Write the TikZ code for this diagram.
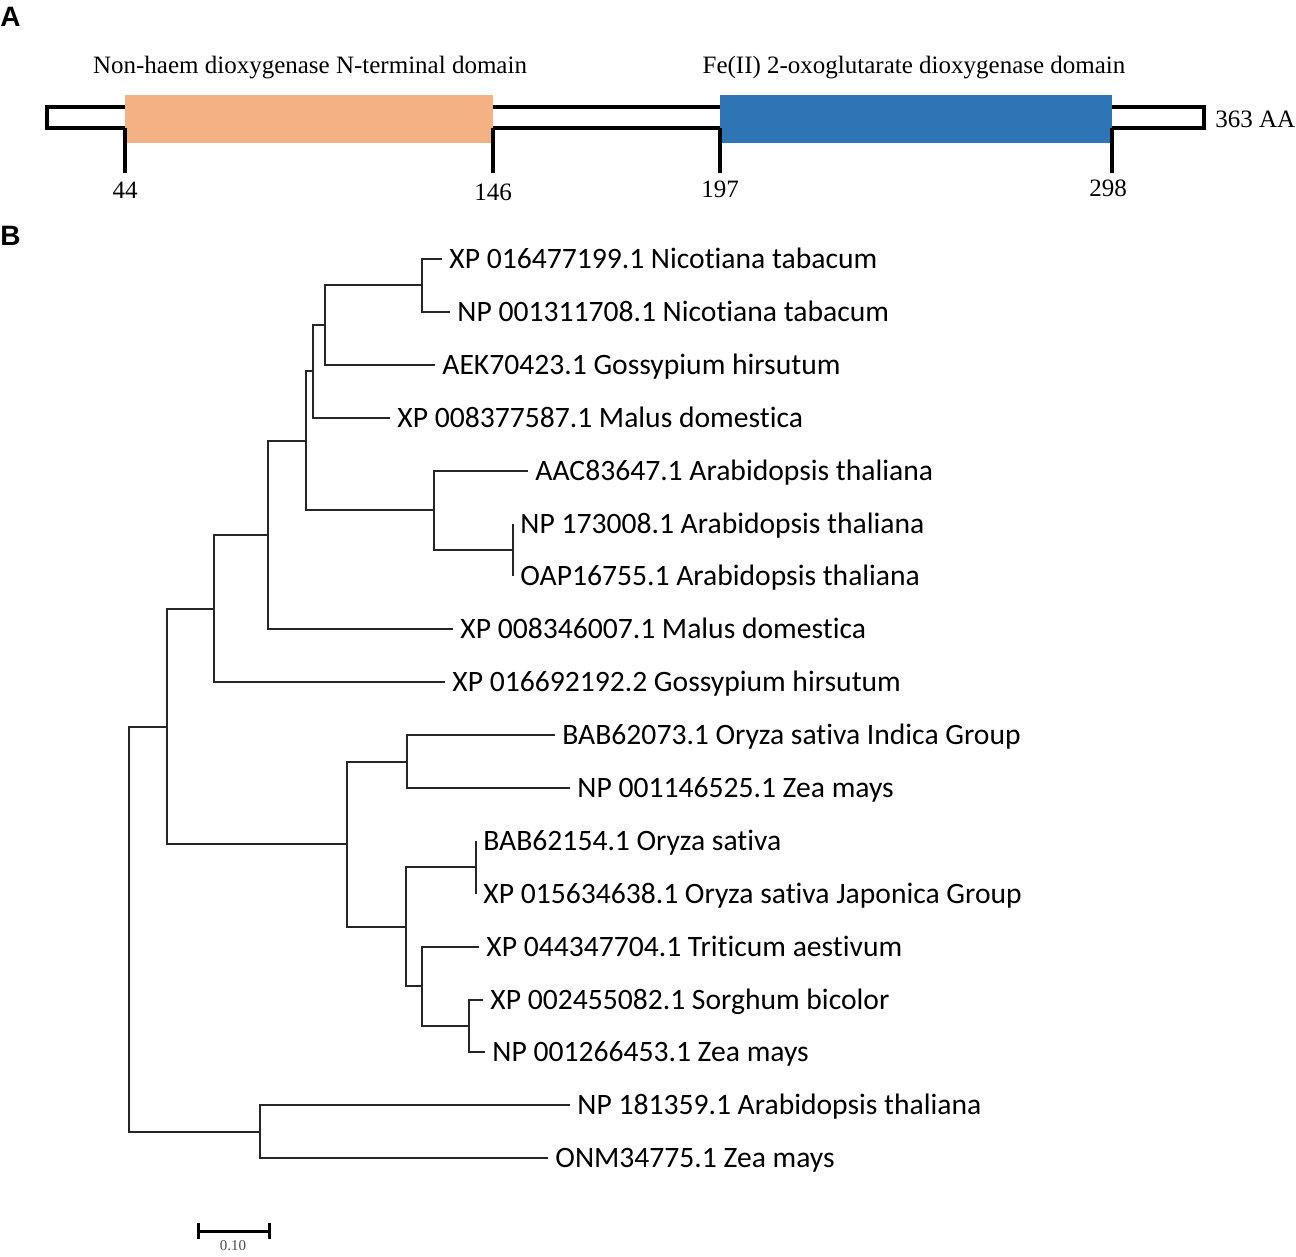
\documentclass[tikz,border=0pt]{standalone}
\usepackage{fontspec}
\setmainfont{Liberation Serif}
\newfontfamily\treefont[Ligatures={NoCommon,NoContextual,NoRare}]{Carlito}
\newfontfamily\panelfont{Liberation Sans}
\definecolor{ntermcol}{HTML}{F4B183}
\definecolor{fedomcol}{HTML}{2E75B6}
\begin{document}
\begin{tikzpicture}[x=0.5pt, y=-0.5pt,
	barline/.style={line width=2.25pt},
	branch/.style={draw=black!85, line width=1pt},
	leaf/.style={anchor=west, inner xsep=3.5pt, inner ysep=0pt, text height=9.5pt, text depth=0pt, font=\treefont\fontsize{14.8}{16}\selectfont},
	serif/.style={inner sep=0pt, font=\fontsize{12.5}{14}\selectfont},
	panel/.style={anchor=west, inner sep=0pt, font=\panelfont\bfseries\fontsize{14}{16}\selectfont}]
			\useasboundingbox (0,0) rectangle (1296,1257);

			% A: protein domains
			\node[panel] (pa) at (0,17) {A};
			\draw[barline] (47,107) rectangle (1204,128);
			\fill[ntermcol] (125,95) rectangle (493,143);
			\fill[fedomcol] (720,95) rectangle (1112,143);
			\draw[barline] (125,128) -- (125,173);
			\draw[barline] (493,128) -- (493,173);
			\draw[barline] (720,128) -- (720,173);
			\draw[barline] (1112,128) -- (1112,173);
			\node[serif] (dom1) at (310,68) {Non-haem dioxygenase N-terminal domain};
			\node[serif] (dom2) at (914,68) {Fe(II) 2-oxoglutarate dioxygenase domain};
			\node[serif, anchor=west] (len) at (1215,119) {363 AA};
			\node[serif] (p44) at (125,190) {44};
			\node[serif] (p146) at (493,192) {146};
			\node[serif] (p197) at (720,189) {197};
			\node[serif] (p298) at (1108,188) {298};

			% B: tree
			\node[panel] (pb) at (0,236) {B};
			\node[leaf] (l1) at (442,259) {XP 016477199.1 Nicotiana tabacum};
			\node[leaf] (l2) at (450,312) {NP 001311708.1 Nicotiana tabacum};
			\node[leaf] (l3) at (435,365) {AEK70423.1 Gossypium hirsutum};
			\node[leaf] (l4) at (390,418) {XP 008377587.1 Malus domestica};
			\node[leaf] (l5) at (528,471) {AAC83647.1 Arabidopsis thaliana};
			\node[leaf] (l6) at (513,524) {NP 173008.1 Arabidopsis thaliana};
			\node[leaf] (l7) at (513,576) {OAP16755.1 Arabidopsis thaliana};
			\node[leaf] (l8) at (453,629) {XP 008346007.1 Malus domestica};
			\node[leaf] (l9) at (445,682) {XP 016692192.2 Gossypium hirsutum};
			\node[leaf] (l10) at (555,735) {BAB62073.1 Oryza sativa Indica Group};
			\node[leaf] (l11) at (570,788) {NP 001146525.1 Zea mays};
			\node[leaf] (l12) at (476,841) {BAB62154.1 Oryza sativa};
			\node[leaf] (l13) at (476,894) {XP 015634638.1 Oryza sativa Japonica Group};
			\node[leaf] (l14) at (479,947) {XP 044347704.1 Triticum aestivum};
			\node[leaf] (l15) at (483,1000) {XP 002455082.1 Sorghum bicolor};
			\node[leaf] (l16) at (485,1052) {NP 001266453.1 Zea mays};
			\node[leaf] (l17) at (570,1105) {NP 181359.1 Arabidopsis thaliana};
			\node[leaf] (l18) at (548,1158) {ONM34775.1 Zea mays};

			\coordinate (n1) at (422,285.5);
			\coordinate (n2) at (325,325.2);
			\coordinate (n3) at (313,371.4);
			\coordinate (n6) at (513,550);
			\coordinate (n5) at (434,510.3);
			\coordinate (n4) at (306,440.9);
			\coordinate (n7) at (268,535.1);
			\coordinate (n8) at (214,608.7);
			\coordinate (n11) at (407,761.6);
			\coordinate (n13) at (476,867.4);
			\coordinate (n15) at (469,1026.1);
			\coordinate (n14) at (422,986.4);
			\coordinate (n12) at (406,926.9);
			\coordinate (n10) at (347,844.3);
			\coordinate (n9) at (167,726.5);
			\coordinate (n16) at (260,1131.9);
			\coordinate (n0) at (129,929.2);

			\draw[branch] (n1) |- (l1.west);
			\draw[branch] (n1) |- (l2.west);
			\draw[branch] (n2) |- (n1);
			\draw[branch] (n2) |- (l3.west);
			\draw[branch] (n3) |- (n2);
			\draw[branch] (n3) |- (l4.west);
			\draw[branch] (n6) |- (l6.west);
			\draw[branch] (n6) |- (l7.west);
			\draw[branch] (n5) |- (l5.west);
			\draw[branch] (n5) |- (n6);
			\draw[branch] (n4) |- (n3);
			\draw[branch] (n4) |- (n5);
			\draw[branch] (n7) |- (n4);
			\draw[branch] (n7) |- (l8.west);
			\draw[branch] (n8) |- (n7);
			\draw[branch] (n8) |- (l9.west);
			\draw[branch] (n11) |- (l10.west);
			\draw[branch] (n11) |- (l11.west);
			\draw[branch] (n13) |- (l12.west);
			\draw[branch] (n13) |- (l13.west);
			\draw[branch] (n15) |- (l15.west);
			\draw[branch] (n15) |- (l16.west);
			\draw[branch] (n14) |- (l14.west);
			\draw[branch] (n14) |- (n15);
			\draw[branch] (n12) |- (n13);
			\draw[branch] (n12) |- (n14);
			\draw[branch] (n10) |- (n11);
			\draw[branch] (n10) |- (n12);
			\draw[branch] (n9) |- (n8);
			\draw[branch] (n9) |- (n10);
			\draw[branch] (n16) |- (l17.west);
			\draw[branch] (n16) |- (l18.west);
			\draw[branch] (n0) |- (n9);
			\draw[branch] (n0) |- (n16);

			% scale bar
			\draw[line width=1.5pt] (198,1231) -- (269,1231);
			\draw[line width=1.5pt] (198,1223) -- (198,1239);
			\draw[line width=1.5pt] (269,1223) -- (269,1239);
			\node[inner sep=0pt, black!70, font=\fontsize{7.5}{9}\selectfont] (sb) at (233,1246) {0.10};

		\end{tikzpicture}
\end{document}
